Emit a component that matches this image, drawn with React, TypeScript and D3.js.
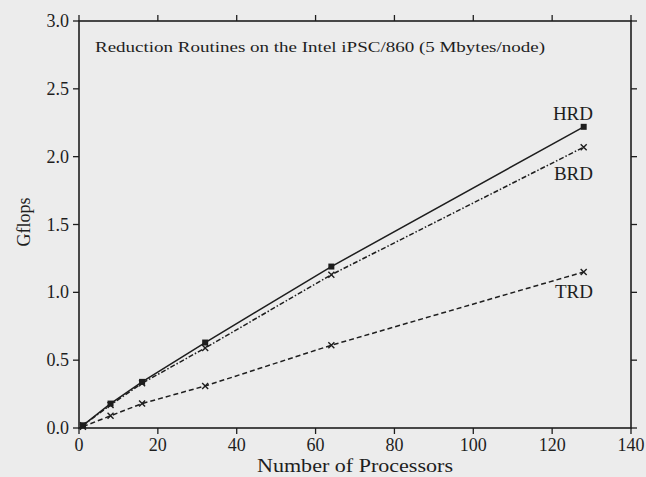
import React, { useEffect, useRef } from "react";
import * as d3 from "d3";

// processors used in the runs
const procs = [1, 8, 16, 32, 64, 128];
// Gflops per routine
const hrd = [0.02, 0.18, 0.34, 0.63, 1.19, 2.22];
const brd = [0.02, 0.17, 0.33, 0.59, 1.13, 2.07];
const trd = [0.01, 0.09, 0.18, 0.31, 0.61, 1.15];

const xTicks = [0, 20, 40, 60, 80, 100, 120, 140];
const yTicks = [0, 0.5, 1.0, 1.5, 2.0, 2.5, 3.0];

const title = "Reduction Routines on the Intel iPSC/860 (5 Mbytes/node)";

export default function App() {
  const ref = useRef<SVGSVGElement>(null);

  useEffect(() => {
    const svg = d3.select(ref.current);
    svg.selectAll("*").remove();

    const W = 646, H = 477;
    const font = "'Liberation Serif', 'DejaVu Serif', serif";
    const ink = "#1e1e1e";

    svg.append("rect").attr("width", W).attr("height", H).attr("fill", "#ececec");

    const x = d3.scaleLinear().domain([0, 140]).range([79, 631]);
    const y = d3.scaleLinear().domain([0, 3]).range([428, 21]);

    // frame
    svg.append("rect")
      .attr("x", x(0)).attr("y", y(3))
      .attr("width", x(140) - x(0)).attr("height", y(0) - y(3))
      .attr("fill", "none").attr("stroke", ink).attr("stroke-width", 1.6);

    // x ticks: bottom and top, pointing out
    const xt = svg.append("g");
    xTicks.forEach((t) => {
      xt.append("line").attr("x1", x(t)).attr("x2", x(t))
        .attr("y1", y(0)).attr("y2", y(0) + 6).attr("stroke", ink).attr("stroke-width", 1.3);
      xt.append("line").attr("x1", x(t)).attr("x2", x(t))
        .attr("y1", y(3)).attr("y2", y(3) - 6).attr("stroke", ink).attr("stroke-width", 1.3);
      xt.append("text").text(t)
        .attr("x", x(t)).attr("y", y(0) + 23)
        .attr("text-anchor", "middle").attr("font-family", font)
        .attr("font-size", 18).attr("fill", ink);
    });

    // y ticks: left and right
    const yt = svg.append("g");
    yTicks.forEach((t) => {
      yt.append("line").attr("x1", x(0) - 6).attr("x2", x(0))
        .attr("y1", y(t)).attr("y2", y(t)).attr("stroke", ink).attr("stroke-width", 1.3);
      yt.append("line").attr("x1", x(140)).attr("x2", x(140) + 6)
        .attr("y1", y(t)).attr("y2", y(t)).attr("stroke", ink).attr("stroke-width", 1.3);
      yt.append("text").text(t.toFixed(1))
        .attr("x", x(0) - 10).attr("y", y(t) + 6)
        .attr("text-anchor", "end").attr("font-family", font)
        .attr("font-size", 18).attr("fill", ink);
    });

    // axis titles
    svg.append("text").text("Number of Processors")
      .attr("x", 355).attr("y", 472).attr("text-anchor", "middle")
      .attr("font-family", font).attr("font-size", 18).attr("fill", ink)
      .attr("textLength", 196).attr("lengthAdjust", "spacingAndGlyphs");
    svg.append("text").text("Gflops")
      .attr("transform", `translate(30, 222) rotate(-90)`)
      .attr("text-anchor", "middle").attr("font-family", font)
      .attr("font-size", 18).attr("fill", ink);

    svg.append("text").text(title)
      .attr("x", 95).attr("y", 52).attr("font-family", font)
      .attr("font-size", 15).attr("fill", ink)
      .attr("textLength", 450).attr("lengthAdjust", "spacingAndGlyphs");

    const line = d3.line<number>().x((_, i) => x(procs[i])).y((d) => y(d));

    const series = [
      { name: "HRD", vals: hrd, dash: null, mark: "square", ly: 120 },
      { name: "BRD", vals: brd, dash: "5,2,1.5,2", mark: "x", ly: 180 },
      { name: "TRD", vals: trd, dash: "5,3", mark: "x", ly: 298 },
    ];

    series.forEach((s) => {
      const p = svg.append("path").datum(s.vals)
        .attr("d", line).attr("fill", "none")
        .attr("stroke", ink).attr("stroke-width", 1.5);
      if (s.dash) p.attr("stroke-dasharray", s.dash);

      const g = svg.append("g");
      s.vals.forEach((v, i) => {
        const cx = x(procs[i]), cy = y(v);
        if (s.mark === "square") {
          g.append("rect").attr("x", cx - 3).attr("y", cy - 3)
            .attr("width", 6).attr("height", 6).attr("fill", ink);
        } else {
          g.append("path")
            .attr("d", `M${cx - 3},${cy - 3}L${cx + 3},${cy + 3}M${cx - 3},${cy + 3}L${cx + 3},${cy - 3}`)
            .attr("stroke", ink).attr("stroke-width", 1.4);
        }
      });

      svg.append("text").text(s.name)
        .attr("x", 593).attr("y", s.ly).attr("text-anchor", "end")
        .attr("font-family", font).attr("font-size", 19).attr("fill", ink);
    });
  }, []);

  return (
    <div style={{ position: "fixed", left: 0, top: 0 }}>
      <svg ref={ref} width={646} height={477} style={{ display: "block" }} />
    </div>
  );
}
